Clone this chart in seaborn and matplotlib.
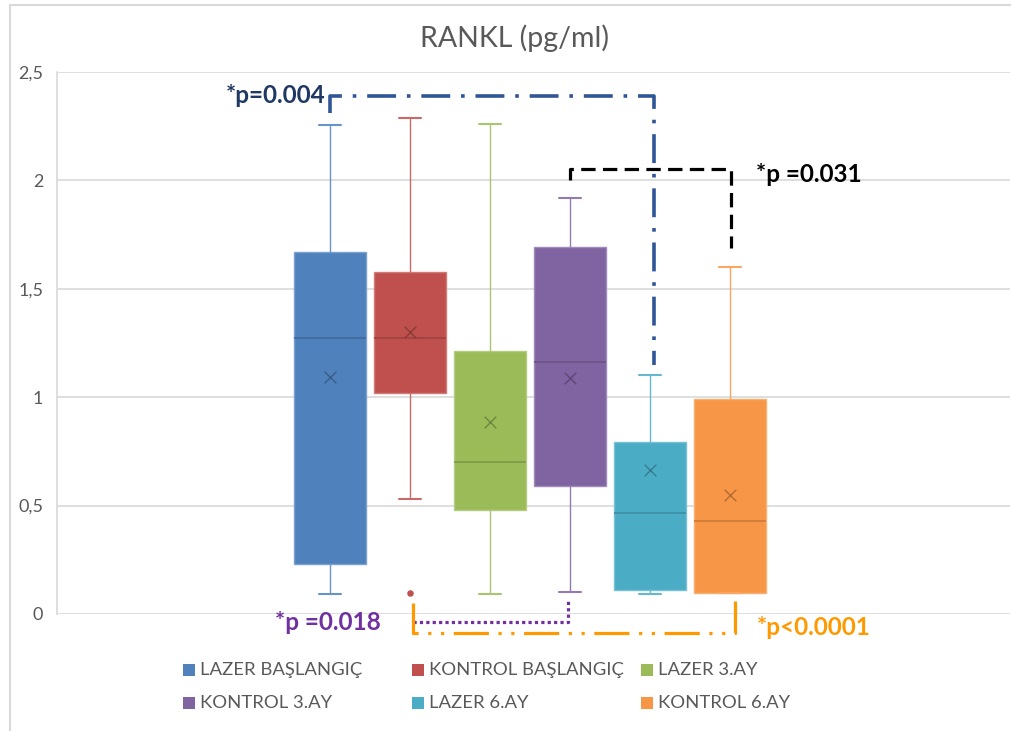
import numpy as np
import pandas as pd
import matplotlib
matplotlib.use("Agg")
import matplotlib.pyplot as plt
from matplotlib.patches import Rectangle
from matplotlib import colors as mcolors
import seaborn as sns

# Group names and five-number summaries (min, Q1, median, Q3, max) of RANKL (pg/ml)
groups = ["LAZER BAŞLANGIÇ", "KONTROL BAŞLANGIÇ", "LAZER 3.AY",
          "KONTROL 3.AY", "LAZER 6.AY", "KONTROL 6.AY"]
whisker_low = [0.092, 0.530, 0.094, 0.100, 0.092, 0.098]
q1 = [0.229, 1.021, 0.480, 0.592, 0.111, 0.098]
median = [1.272, 1.272, 0.701, 1.161, 0.464, 0.430]
q3 = [1.670, 1.579, 1.213, 1.694, 0.792, 0.993]
whisker_high = [2.255, 2.288, 2.260, 1.919, 1.101, 1.602]
means = [1.092, 1.300, 0.884, 1.090, 0.664, 0.547]
outlier_group = ["KONTROL BAŞLANGIÇ"]
outlier_value = [0.095]

palette = ["#4F81BD", "#C0504D", "#9BBB59", "#8064A2", "#4BACC6", "#F79646"]

y_ticks = [0, 0.5, 1, 1.5, 2, 2.5]
y_tick_labels = ["0", "0,5", "1", "1,5", "2", "2,5"]

sig_labels = ["*p=0.004", "*p =0.031", "*p =0.018", "*p<0.0001"]

sns.set_theme(style="white")
plt.rcParams["font.family"] = ["Lato", "DejaVu Sans"]

fig = plt.figure(figsize=(10.12, 7.31), dpi=100)
ax = fig.add_axes([57 / 1012, 1 - 614 / 731, (1010 - 57) / 1012, (614 - 72) / 731])


def shade(c, f):
    r, g, b = mcolors.to_rgb(c)
    return (r * f, g * f, b * f)


def tint(c, f):
    r, g, b = mcolors.to_rgb(c)
    return (r + (1 - r) * f, g + (1 - g) * f, b + (1 - b) * f)


for i, name in enumerate(groups):
    col = palette[i]
    summary = pd.DataFrame({
        "group": [name] * 5,
        "value": [whisker_low[i], q1[i], median[i], q3[i], whisker_high[i]],
    })
    sns.boxplot(data=summary, x="group", y="value", order=groups,
                color=col, saturation=1, width=0.9, whis=(0, 100),
                linewidth=1.0, showfliers=False, capwidths=0.27,
                boxprops=dict(edgecolor=tint(col, 0.25)),
                medianprops=dict(color=shade(col, 0.82), linewidth=1.2),
                whiskerprops=dict(color=tint(col, 0.15), linewidth=1.0),
                capprops=dict(color=tint(col, 0.15), linewidth=1.5),
                ax=ax)

# Mean markers
for i, name in enumerate(groups):
    sns.scatterplot(x=[i], y=[means[i]], marker="x", s=70,
                    color=shade(palette[i], 0.72), linewidth=1.0, ax=ax,
                    legend=False, zorder=5)

# Outlier
sns.scatterplot(x=[groups.index(g) for g in outlier_group], y=outlier_value,
                color=palette[1], s=22, linewidth=0, ax=ax, legend=False,
                zorder=5)

ax.set_xlim(-3.41, 8.5)
ax.set_ylim(0, 2.5)
ax.set_yticks(y_ticks)
ax.set_yticklabels(y_tick_labels, fontsize=13, color="#595959")
ax.set_xticks([])
ax.set_xlabel("")
ax.set_ylabel("")
ax.tick_params(axis="y", length=0, pad=10)
ax.grid(axis="y", color="#D9D9D9", linewidth=1.2)
ax.set_axisbelow(True)
for side in ["top", "right", "bottom"]:
    ax.spines[side].set_visible(False)
ax.spines["left"].set_color("#D9D9D9")
ax.spines["left"].set_linewidth(1.2)

# Significance brackets
ax.plot([0, 0, 4.05, 4.05], [2.31, 2.39, 2.39, 1.15], color="#2F5597",
        lw=2.6, linestyle=(0, (8, 3, 1, 3)), clip_on=False, zorder=6)
ax.text(-0.05, 2.39, sig_labels[0], ha="right", va="center", fontsize=17.5,
        fontweight="bold", color="#1F3864")

ax.plot([3, 3, 5.01, 5.01], [2.0, 2.053, 2.053, 1.69], color="black",
        lw=2.3, linestyle=(0, (4.5, 2.3)), clip_on=False, zorder=6)
ax.text(5.33, 2.025, sig_labels[1], ha="left", va="center", fontsize=17.5,
        fontweight="bold", color="black")

ax.plot([1.04, 2.975, 2.975], [-0.037, -0.037, 0.065], color="#7030A0",
        lw=2.3, linestyle=(0, (1, 1)), clip_on=False, zorder=6)
ax.text(0.64, -0.04, sig_labels[2], ha="right", va="center", fontsize=17.5,
        fontweight="bold", color="#7030A0")

ax.plot([1.04, 1.04, 5.06, 5.06], [0.05, -0.088, -0.088, 0.06],
        color="#FF9900", lw=2.3, linestyle=(0, (11, 3, 1, 3, 1, 3)),
        clip_on=False, zorder=6)
ax.text(5.33, -0.062, sig_labels[3], ha="left", va="center", fontsize=17.5,
        fontweight="bold", color="#FF9900")

# Title
fig.text(515 / 1012, 1 - 38 / 731, "RANKL (pg/ml)", ha="center", va="center",
         fontsize=20.5, color="#595959")

# Legend laid out in a 3 x 2 grid
legend_x = [183, 412, 641]
legend_y = [670, 703]
for i, name in enumerate(groups):
    cx = legend_x[i % 3]
    cy = legend_y[i // 3]
    fig.patches.append(Rectangle((cx / 1012, 1 - (cy + 6) / 731), 12 / 1012,
                                 12 / 731, transform=fig.transFigure,
                                 facecolor=palette[i], edgecolor="none"))
    fig.text((cx + 17) / 1012, 1 - cy / 731, name, ha="left", va="center",
             fontsize=13.3, color="#595959")

# Chart area border
fig.patches.append(Rectangle((10 / 1012, -0.05), 1.1, 1 - 5 / 731 + 0.05,
                             transform=fig.transFigure, facecolor="none",
                             edgecolor="#D9D9D9", linewidth=1.5))

fig.savefig("out.png", dpi=100)
